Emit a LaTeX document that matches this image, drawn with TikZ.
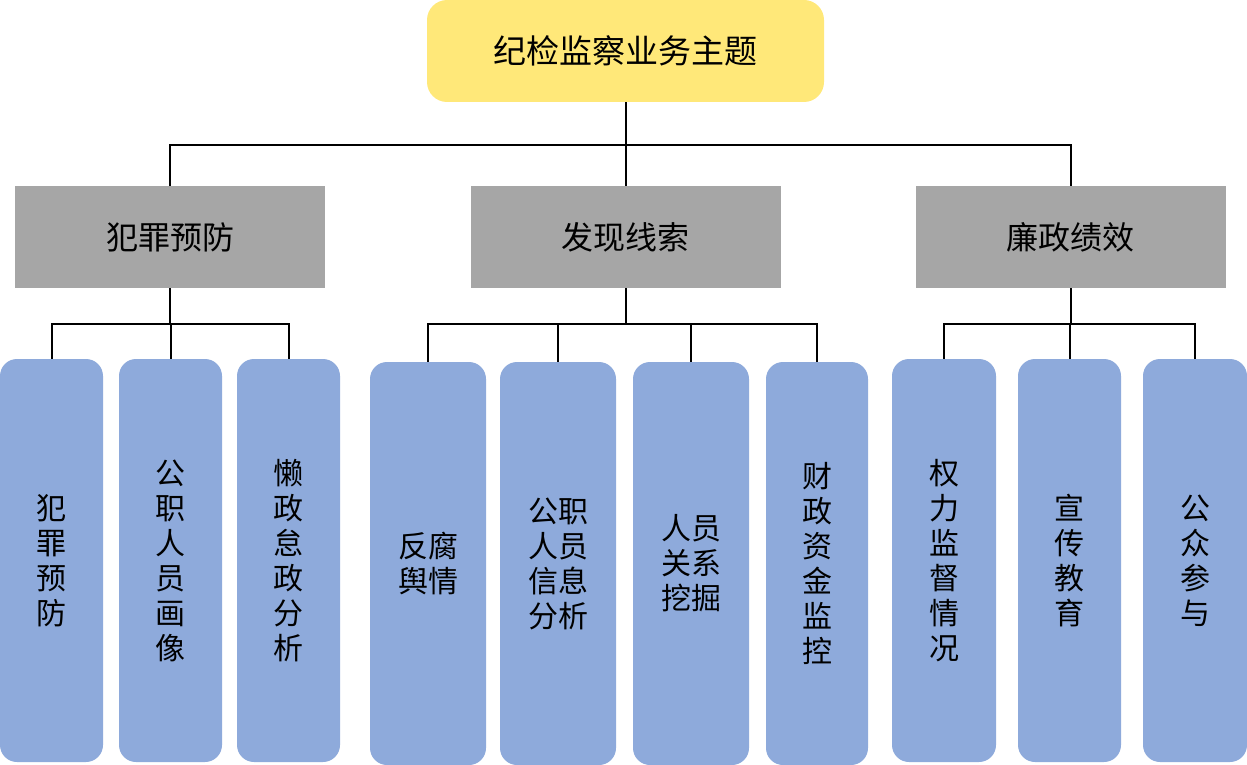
\documentclass[tikz,border=0pt]{standalone}
\usepackage{fontspec}
\setmainfont{Noto Sans CJK SC}
\definecolor{topyellow}{HTML}{FFE879}
\definecolor{catgray}{HTML}{A6A6A6}
\definecolor{leafblue}{HTML}{8EAADB}
\tikzset{
  topbox/.style={fill=topyellow,rounded corners=20pt,inner sep=0pt,
    minimum width=397pt,minimum height=102pt,font=\fontsize{33}{38}\selectfont},
  catbox/.style={fill=catgray,inner sep=0pt,
    minimum width=310pt,minimum height=102pt,font=\fontsize{32}{37}\selectfont},
  leafbox/.style={fill=leafblue,rounded corners=17pt,inner sep=0pt,align=center,
    minimum height=403pt,font=\fontsize{30}{35}\selectfont},
  link/.style={line width=2pt}
}
\begin{document}
\begin{tikzpicture}[x=1pt,y=1pt]
      \useasboundingbox (0,0) rectangle (1247,-765);
      % top and categories
      \node[topbox] (top) at (625.5,-51) {纪检监察业务主题};
      \node[catbox] (crime) at (170,-237) {犯罪预防};
      \node[catbox] (clue) at (625.5,-237) {发现线索};
      \node[catbox] (perf) at (1070.5,-237) {廉政绩效};
      % leaves
      \node[leafbox,minimum width=103pt] (c1) at (51.5,-560.5) {犯\\罪\\预\\防};
      \node[leafbox,minimum width=103pt] (c2) at (170.5,-560.5) {公\\职\\人\\员\\画\\像};
      \node[leafbox,minimum width=103pt] (c3) at (288.5,-560.5) {懒\\政\\怠\\政\\分\\析};
      \node[leafbox,minimum width=116pt] (f1) at (428,-563.5) {反腐\\舆情};
      \node[leafbox,minimum width=116pt] (f2) at (558,-563.5) {公职\\人员\\信息\\分析};
      \node[leafbox,minimum width=116pt] (f3) at (691,-563.5) {人员\\关系\\挖掘};
      \node[leafbox,minimum width=102pt] (f4) at (817,-563.5) {财\\政\\资\\金\\监\\控};
      \node[leafbox,minimum width=104pt] (p1) at (944,-560.5) {权\\力\\监\\督\\情\\况};
      \node[leafbox,minimum width=103pt] (p2) at (1069.5,-560.5) {宣\\传\\教\\育};
      \node[leafbox,minimum width=104pt] (p3) at (1195,-560.5) {公\\众\\参\\与};
      % routine for connectors
      \foreach \c in {crime,clue,perf}
        \draw[link] (top.south) -- ++(0,-43) -| (\c.north);
      \foreach \c in {c1,c2,c3}
        \draw[link] (crime.south) -- ++(0,-36) -| (\c.north);
      \foreach \c in {f1,f2,f3,f4}
        \draw[link] (clue.south) -- ++(0,-36) -| (\c.north);
      \foreach \c in {p1,p2,p3}
        \draw[link] (perf.south) -- ++(0,-36) -| (\c.north);
    \end{tikzpicture}
\end{document}
